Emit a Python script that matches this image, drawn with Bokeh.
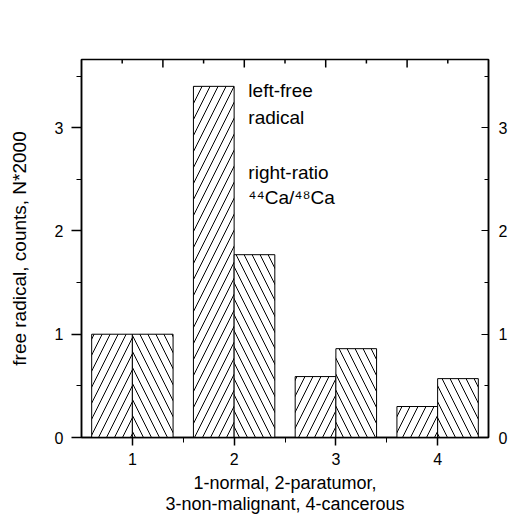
import math
from bokeh.plotting import figure
from bokeh.models import FixedTicker, Range1d, Label, LinearAxis
from bokeh.embed import file_html
from bokeh.resources import INLINE

categories = [1, 2, 3, 4]
free_radical = [1.0, 3.40, 0.59, 0.30]
ca_ratio = [1.0, 1.77, 0.86, 0.57]
y_ticks = [0, 1, 2, 3]
y_minor = [0.5, 1.5, 2.5, 3.5]
x_ticks = [1, 2, 3, 4]
x_minor = [1.5, 2.5, 3.5]
top_major = [1.3, 2.1, 2.9, 3.7]
top_minor = [0.9, 1.7, 2.5, 3.3, 4.1]
legend_lines = ["left-free", "radical", "right-ratio", "\u2074\u2074Ca/\u2074\u2078Ca"]
legend_offsets = [0, -27, -82, -107]

FONT = "Liberation Sans"
Y_MAX = 3.66

p = figure(frame_width=407, frame_height=378, output_backend="svg",
           toolbar_location=None, x_range=Range1d(0.5, 4.5), y_range=Range1d(0, Y_MAX),
           min_border_left=81, min_border_top=59, min_border_right=5, min_border_bottom=0)
p.grid.visible = False
p.outline_line_color = "black"
p.outline_line_width = 1.5
p.background_fill_color = "white"
p.border_fill_color = "white"

left_x = [c - 0.2 for c in categories]
right_x = [c + 0.2 for c in categories]
p.vbar(x=left_x, top=free_radical, width=0.4, bottom=0, fill_color="white",
       line_color="black", line_width=1, hatch_pattern="/", hatch_scale=16,
       hatch_weight=1, hatch_color="black")
p.vbar(x=right_x, top=ca_ratio, width=0.4, bottom=0, fill_color="white",
       line_color="black", line_width=1, hatch_pattern="\\", hatch_scale=16,
       hatch_weight=1, hatch_color="black")

# top ticks (pointing into the frame)
p.ray(x=top_major, y=[Y_MAX] * len(top_major), length=8, length_units="screen",
      angle=-math.pi / 2, line_color="black", line_width=1.5)
p.ray(x=top_minor, y=[Y_MAX] * len(top_minor), length=4, length_units="screen",
      angle=-math.pi / 2, line_color="black", line_width=1.5)

# bottom axis
xa = p.xaxis[0]
xa.ticker = FixedTicker(ticks=x_ticks, minor_ticks=x_minor)
xa.axis_label = "1-normal, 2-paratumor,\n3-non-malignant, 4-cancerous"
xa.axis_label_text_font = FONT
xa.axis_label_text_font_style = "normal"
xa.axis_label_text_font_size = "18px"
xa.axis_label_text_color = "black"
xa.axis_label_standoff = 5
xa.axis_label_text_line_height = 1.05
xa.major_label_text_font = FONT
xa.major_label_text_font_size = "16px"
xa.major_label_text_color = "black"
xa.major_label_standoff = 7
xa.major_tick_out = 8
xa.major_tick_in = 0
xa.minor_tick_out = 5
xa.minor_tick_in = 0
xa.axis_line_width = 1.5
xa.major_tick_line_width = 1.5

# left axis
ya = p.yaxis[0]
ya.ticker = FixedTicker(ticks=y_ticks, minor_ticks=y_minor)
ya.axis_label = "free radical, counts, N*2000"
ya.axis_label_text_font = FONT
ya.axis_label_text_font_style = "normal"
ya.axis_label_text_font_size = "19px"
ya.axis_label_text_color = "black"
ya.axis_label_standoff = 22
ya.major_label_text_font = FONT
ya.major_label_text_font_size = "16px"
ya.major_label_text_color = "black"
ya.major_label_standoff = 8
ya.major_tick_out = 10
ya.major_tick_in = 0
ya.minor_tick_out = 5
ya.minor_tick_in = 0
ya.axis_line_width = 1.5
ya.major_tick_line_width = 1.5

# right axis
ra = LinearAxis(ticker=FixedTicker(ticks=y_ticks, minor_ticks=y_minor))
ra.major_label_text_font = FONT
ra.major_label_text_font_size = "16px"
ra.major_label_text_color = "black"
ra.major_label_standoff = 10
ra.major_tick_in = 7
ra.major_tick_out = 0
ra.minor_tick_in = 4
ra.minor_tick_out = 0
ra.axis_line_width = 1.5
p.add_layout(ra, "right")

for line, off in zip(legend_lines, legend_offsets):
    p.add_layout(Label(x=2.14, y=3.46, y_offset=off, text=line, text_font=FONT,
                       text_font_size="19px", text_color="black",
                       text_baseline="top", text_align="left"))

open("out.html", "w").write(file_html(p, INLINE))
